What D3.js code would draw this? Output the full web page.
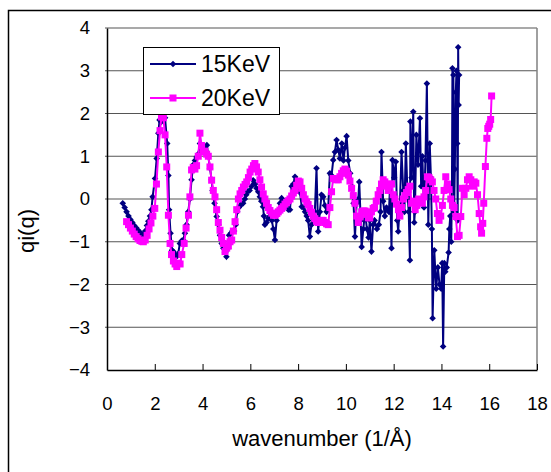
<!DOCTYPE html>
<html>
<head>
<meta charset="utf-8">
<script src="https://cdn.jsdelivr.net/npm/d3@7"></script>
<style>
  body { margin: 0; background: #fff; }
  svg { display: block; font-family: "Liberation Sans", Arial, sans-serif; }
</style>
</head>
<body>
<div id="chart"></div>
<script>
//Series names
var seriesNames = ["15KeV", "20KeV"];

//Tick values for both axes
var xTicks = [0, 2, 4, 6, 8, 10, 12, 14, 16, 18];
var yTicks = [-4, -3, -2, -1, 0, 1, 2, 3, 4];

//15KeV series, [wavenumber, qi(q)]
var kev15 = [
    [0.66, -0.1], [0.74, -0.2], [0.82, -0.3], [0.9, -0.4], [0.98, -0.48], [1.06, -0.55],
    [1.14, -0.62], [1.23, -0.68], [1.3, -0.73], [1.38, -0.78], [1.45, -0.82], [1.52, -0.83],
    [1.6, -0.75], [1.67, -0.62], [1.73, -0.52], [1.8, -0.4], [1.86, -0.25], [1.91, 0.05],
    [2.01, 0.48], [2.08, 0.95], [2.15, 1.54], [2.2, 1.85], [2.27, 1.8], [2.34, 1.93],
    [2.43, 1.9], [2.52, 1.3], [2.57, 0.55], [2.6, -0.25], [2.66, -0.8], [2.72, -1.2],
    [2.78, -1.23], [2.85, -1.3], [2.91, -1.35], [2.98, -1.28], [3.05, -1.04], [3.12, -0.98],
    [3.19, -0.96], [3.26, -0.8], [3.33, -0.6], [3.4, -0.3], [3.47, 0.0], [3.54, 0.45],
    [3.61, 0.8], [3.68, 0.9], [3.75, 0.98], [3.82, 1.05], [3.89, 1.3], [3.96, 1.15],
    [4.03, 1.25], [4.1, 1.2], [4.18, 1.26], [4.24, 1.0], [4.31, 0.72], [4.38, 0.45],
    [4.42, 0.2], [4.5, -0.1], [4.59, -0.41], [4.66, -0.6], [4.73, -0.85], [4.8, -1.04],
    [4.87, -1.15], [4.94, -1.25], [5.0, -1.35], [5.07, -1.15], [5.11, -0.85], [5.18, -0.8],
    [5.25, -0.75], [5.32, -0.75], [5.39, -0.6], [5.45, -0.3], [5.52, -0.2], [5.59, -0.15],
    [5.65, -0.1], [5.7, -0.1], [5.77, 0.0], [5.83, 0.1], [5.9, 0.18], [5.97, 0.2],
    [6.05, 0.3], [6.12, 0.44], [6.2, 0.35], [6.26, 0.25], [6.33, 0.17], [6.4, 0.05],
    [6.46, -0.05], [6.53, -0.18], [6.57, -0.4], [6.61, -0.6], [6.68, -0.55], [6.75, -0.45],
    [6.82, -0.4], [6.9, -0.5], [6.96, -0.7], [7.03, -0.96], [7.1, -0.5], [7.17, -0.3],
    [7.24, -0.1], [7.31, 0.02], [7.38, -0.05], [7.45, -0.15], [7.52, -0.2], [7.59, -0.25],
    [7.66, -0.25], [7.73, 0.3], [7.8, 0.35], [7.87, 0.52], [7.94, 0.45], [8.01, 0.3],
    [8.08, 0.15], [8.15, -0.18], [8.22, -0.2], [8.29, -0.3], [8.36, -0.4], [8.42, -0.5],
    [8.49, -0.88], [8.56, -0.6], [8.63, -0.45], [8.7, -0.3], [8.77, 0.72], [8.84, -0.76],
    [8.91, -0.3], [8.98, 0.1], [9.05, 0.05], [9.12, -0.15], [9.19, -0.3], [9.26, -0.2],
    [9.33, 0.6], [9.4, 0.55], [9.47, 0.91], [9.54, 1.1], [9.61, 1.38], [9.68, 1.15],
    [9.75, 0.95], [9.83, 1.3], [9.9, 0.9], [9.96, 1.2], [10.03, 1.47], [10.1, 0.9],
    [10.18, 0.6], [10.25, 0.3], [10.32, -0.1], [10.38, -0.88], [10.45, -0.1], [10.52, 0.0],
    [10.56, 0.4], [10.62, -0.5], [10.66, -1.12], [10.73, -0.7], [10.8, -0.3], [10.88, -0.7],
    [10.95, -0.9], [11.0, -0.5], [11.07, -1.23], [11.14, -0.6], [11.2, -0.5], [11.3, -0.7],
    [11.38, -0.6], [11.45, -0.3], [11.49, 1.1], [11.56, -0.05], [11.63, -0.4], [11.7, -0.2],
    [11.8, -0.3], [11.85, 0.3], [11.91, -1.15], [11.95, 0.91], [12.02, 0.5], [12.09, 0.87],
    [12.15, -0.5], [12.19, -0.76], [12.26, -0.1], [12.33, 1.1], [12.4, 0.2], [12.45, -0.3],
    [12.51, 1.3], [12.58, 0.1], [12.63, -0.3], [12.68, -1.43], [12.7, 1.81], [12.75, 0.5],
    [12.82, 2.04], [12.86, -0.55], [12.89, -0.3], [12.95, 1.5], [13.02, 0.8], [13.1, 1.89],
    [13.15, 0.3], [13.2, 1.0], [13.27, -0.2], [13.33, 0.9], [13.39, 2.7], [13.45, -0.6],
    [13.51, 1.3], [13.56, 0.5], [13.6, -0.7], [13.63, -2.79], [13.7, -1.2], [13.78, -2.1],
    [13.85, -1.6], [13.92, -2.0], [13.99, -2.1], [14.03, -1.5], [14.07, -3.45], [14.12, -1.5],
    [14.16, -1.7], [14.22, -1.6], [14.3, -1.25], [14.33, -0.7], [14.37, -0.4], [14.41, -1.0],
    [14.44, 0.3], [14.46, 3.06], [14.5, 2.9], [14.53, -0.3], [14.56, 0.7], [14.6, 2.5],
    [14.63, 3.0], [14.66, 1.3], [14.68, -0.5], [14.7, 3.55], [14.72, 2.2], [14.74, 2.9]
];

//20KeV series, [wavenumber, qi(q)]
var kev20 = [
    [0.82, -0.53], [0.9, -0.6], [0.98, -0.68], [1.06, -0.75], [1.14, -0.82], [1.22, -0.88],
    [1.3, -0.93], [1.38, -0.97], [1.46, -0.99], [1.52, -1.0], [1.6, -0.96], [1.68, -0.85],
    [1.76, -0.7], [1.84, -0.56], [1.92, -0.4], [2.0, -0.22], [2.07, 0.35], [2.15, 1.1],
    [2.22, 1.6], [2.28, 1.92], [2.36, 1.9], [2.43, 1.5], [2.5, 0.75], [2.57, -0.38],
    [2.64, -1.04], [2.7, -1.3], [2.78, -1.45], [2.85, -1.52], [2.92, -1.58], [2.99, -1.5],
    [3.06, -1.52], [3.13, -1.3], [3.23, -1.04], [3.31, -0.68], [3.41, -0.38], [3.47, 0.05],
    [3.54, 0.68], [3.61, 0.74], [3.68, 0.7], [3.75, 0.78], [3.82, 1.0], [3.89, 1.54],
    [3.96, 1.25], [4.03, 1.1], [4.1, 1.12], [4.17, 1.05], [4.24, 1.0], [4.31, 0.75],
    [4.38, 0.44], [4.45, 0.2], [4.52, 0.05], [4.59, -0.25], [4.66, -0.55], [4.73, -0.73],
    [4.8, -0.9], [4.87, -1.04], [4.94, -1.23], [5.01, -1.15], [5.08, -1.1], [5.15, -1.0],
    [5.22, -0.96], [5.29, -0.75], [5.36, -0.53], [5.43, -0.25], [5.5, 0.0], [5.57, 0.12],
    [5.64, 0.2], [5.71, 0.28], [5.78, 0.34], [5.85, 0.4], [5.92, 0.5], [5.99, 0.63],
    [6.06, 0.7], [6.13, 0.78], [6.19, 0.83], [6.26, 0.75], [6.33, 0.63], [6.4, 0.45],
    [6.47, 0.28], [6.54, 0.12], [6.61, 0.0], [6.68, -0.1], [6.75, -0.2], [6.82, -0.27],
    [6.9, -0.33], [6.97, -0.38], [7.04, -0.38], [7.11, -0.34], [7.17, -0.3], [7.24, -0.26],
    [7.31, -0.22], [7.38, -0.18], [7.45, -0.12], [7.52, -0.08], [7.59, -0.04], [7.66, 0.0],
    [7.73, 0.07], [7.8, 0.14], [7.87, 0.2], [7.94, 0.32], [8.01, 0.42], [8.08, 0.4],
    [8.15, 0.25], [8.22, 0.1], [8.29, 0.0], [8.36, -0.07], [8.42, -0.13], [8.49, -0.22],
    [8.56, -0.31], [8.63, -0.4], [8.7, -0.46], [8.77, -0.52], [8.84, -0.55], [8.91, -0.52],
    [8.98, -0.5], [9.05, -0.5], [9.12, -0.55], [9.19, -0.58], [9.26, -0.6], [9.33, -0.2],
    [9.4, 0.17], [9.47, 0.48], [9.54, 0.47], [9.61, 0.45], [9.68, 0.45], [9.75, 0.52],
    [9.82, 0.6], [9.89, 0.66], [9.96, 0.7], [10.03, 0.65], [10.1, 0.56], [10.17, 0.42],
    [10.24, 0.25], [10.31, 0.08], [10.38, -0.1], [10.45, -0.4], [10.52, -0.55], [10.59, -0.42],
    [10.66, -0.3], [10.73, -0.28], [10.8, -0.28], [10.87, -0.36], [10.94, -0.44], [11.0, -0.44],
    [11.07, -0.3], [11.14, -0.22], [11.2, -0.2], [11.27, -0.05], [11.35, 0.1], [11.42, 0.2],
    [11.49, 0.35], [11.56, 0.45], [11.63, 0.4], [11.7, 0.3], [11.77, 0.2], [11.84, 0.35],
    [11.91, 0.35], [11.98, 0.1], [12.05, 0.0], [12.12, -0.12], [12.2, -0.25], [12.26, -0.4],
    [12.33, -0.2], [12.4, 0.0], [12.47, 0.08], [12.54, 0.15], [12.61, 0.22], [12.68, 0.3],
    [12.75, -0.1], [12.82, -0.05], [12.9, -0.25], [12.97, -0.15], [13.05, 0.0], [13.12, -0.05],
    [13.2, -0.1], [13.27, 0.05], [13.34, 0.2], [13.41, 0.52], [13.48, 0.5], [13.55, 0.45],
    [13.62, 0.4], [13.69, 0.2], [13.76, 0.0], [13.83, -0.34], [13.9, -0.5], [13.97, -0.4],
    [14.04, -0.15], [14.11, 0.2], [14.18, 0.52], [14.25, 0.35], [14.32, 0.22], [14.39, 0.0],
    [14.46, -0.15], [14.53, -0.2], [14.6, -0.41], [14.67, -0.88], [14.74, -0.85], [14.81, -0.41],
    [14.88, 0.25], [14.95, 0.1], [15.02, 0.25], [15.09, 0.45], [15.16, 0.52], [15.23, 0.45],
    [15.3, 0.3], [15.37, 0.4], [15.44, 0.37], [15.51, 0.1], [15.58, -0.34], [15.64, -0.65],
    [15.68, -0.8], [15.73, -0.57], [15.77, -0.1], [15.84, 0.76], [15.9, 1.42], [15.94, 1.65],
    [15.98, 1.7], [16.02, 1.75], [16.06, 1.86], [16.1, 2.41]
];

//Layout configuration
var configuration = {
    width: 551,
    height: 472,
    left: 107,
    right: 537,
    top: 28,
    bottom: 370
};

var navy = "#000080";
var magenta = "#FF00FF";

//Create SVG element
var svg = d3.select("#chart")
    .append("svg")
        .attr("width", configuration.width)
        .attr("height", configuration.height);

//Outer chart frame (runs off the right and bottom edge)
svg.append("rect")
    .attr("x", 8.5)
    .attr("y", 10.5)
    .attr("width", 700)
    .attr("height", 700)
    .attr("fill", "#fff")
    .attr("stroke", "#000")
    .attr("stroke-width", 1.5);

//Scales
var x = d3.scaleLinear()
    .domain([0, 18])
    .range([configuration.left, configuration.right]);

var y = d3.scaleLinear()
    .domain([-4, 4])
    .range([configuration.bottom, configuration.top]);

//Horizontal gridlines
svg.append("g")
    .selectAll("line")
    .data(yTicks.filter(function(d) { return d > -4; }))
    .enter()
    .append("line")
        .attr("x1", configuration.left - 2)
        .attr("x2", configuration.right)
        .attr("y1", function(d) { return y(d); })
        .attr("y2", function(d) { return y(d); })
        .attr("stroke", "#555")
        .attr("stroke-width", 1.2);

//Right border of plot area
svg.append("line")
    .attr("x1", configuration.right)
    .attr("x2", configuration.right)
    .attr("y1", configuration.top)
    .attr("y2", configuration.bottom)
    .attr("stroke", "#808080")
    .attr("stroke-width", 1.5);

//X axis with inside ticks
var xAxis = svg.append("g")
    .attr("transform", `translate(0, ${configuration.bottom})`)
    .call(d3.axisBottom(x).tickValues(xTicks).tickSizeInner(-6).tickSizeOuter(0).tickPadding(27));

xAxis.select(".domain").attr("stroke", "#000").attr("stroke-width", 1.5);
xAxis.selectAll(".tick line").attr("stroke", "#000").attr("stroke-width", 1);
xAxis.selectAll(".tick text")
    .attr("font-size", 18.5)
    .attr("fill", "#000")
    .attr("dy", "0.71em");

//Y axis
var yAxis = svg.append("g")
    .attr("transform", `translate(${configuration.left}, 0)`)
    .call(d3.axisLeft(y).tickValues(yTicks).tickSize(0).tickPadding(17)
        .tickFormat(function(d) { return d < 0 ? "\u2212" + Math.abs(d) : d; }));

yAxis.select(".domain").attr("stroke", "#000").attr("stroke-width", 1.5);
yAxis.selectAll(".tick text")
    .attr("font-size", 18.5)
    .attr("fill", "#000");

//Axis titles
svg.append("text")
    .attr("x", (configuration.left + configuration.right) / 2)
    .attr("y", 446)
    .attr("text-anchor", "middle")
    .attr("font-size", 22)
    .text("wavenumber (1/\u00C5)");

svg.append("text")
    .attr("transform", "translate(34, 231) rotate(-90)")
    .attr("text-anchor", "middle")
    .attr("font-size", 22)
    .text("qi(q)");

//Line generator
var line = d3.line()
    .x(function(d) { return x(d[0]); })
    .y(function(d) { return y(d[1]); });

//Diamond marker path
function diamond(r) {
    return `M0,${-r}L${r},0L0,${r}L${-r},0Z`;
}

//15KeV series
svg.append("path")
    .datum(kev15)
    .attr("d", line)
    .attr("fill", "none")
    .attr("stroke", navy)
    .attr("stroke-width", 2);

svg.append("g")
    .selectAll("path")
    .data(kev15)
    .enter()
    .append("path")
        .attr("d", diamond(3.3))
        .attr("transform", function(d) { return `translate(${x(d[0])}, ${y(d[1])})`; })
        .attr("fill", navy);

//20KeV series
svg.append("path")
    .datum(kev20)
    .attr("d", line)
    .attr("fill", "none")
    .attr("stroke", magenta)
    .attr("stroke-width", 2);

svg.append("g")
    .selectAll("rect")
    .data(kev20)
    .enter()
    .append("rect")
        .attr("x", function(d) { return x(d[0]) - 3.5; })
        .attr("y", function(d) { return y(d[1]) - 3.5; })
        .attr("width", 7)
        .attr("height", 7)
        .attr("fill", magenta);

//Legend
var legend = svg.append("g");

legend.append("rect")
    .attr("x", 143.5)
    .attr("y", 47.5)
    .attr("width", 136)
    .attr("height", 67)
    .attr("fill", "#fff")
    .attr("stroke", "#000")
    .attr("stroke-width", 1);

var legendRows = [
    { name: seriesNames[0], color: navy, y: 64 },
    { name: seriesNames[1], color: magenta, y: 98 }
];

legendRows.forEach(function(row, i) {
    legend.append("line")
        .attr("x1", 150)
        .attr("x2", 196)
        .attr("y1", row.y)
        .attr("y2", row.y)
        .attr("stroke", row.color)
        .attr("stroke-width", 2);

    if (i === 0) {
        legend.append("path")
            .attr("d", diamond(3.3))
            .attr("transform", `translate(173, ${row.y})`)
            .attr("fill", row.color);
    } else {
        legend.append("rect")
            .attr("x", 169.5)
            .attr("y", row.y - 3.5)
            .attr("width", 7)
            .attr("height", 7)
            .attr("fill", row.color);
    }

    legend.append("text")
        .attr("x", 201)
        .attr("y", row.y)
        .attr("dy", "0.36em")
        .attr("font-size", 23)
        .text(row.name);
});
</script>
</body>
</html>
